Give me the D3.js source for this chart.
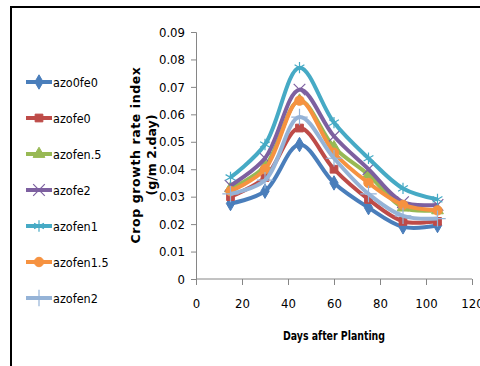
<!DOCTYPE html>
<html>
<head>
<meta charset="utf-8">
<script src="https://cdn.jsdelivr.net/npm/d3@7"></script>
<style>
  body { margin: 0; background: #fff; }
  svg text { font-family: "DejaVu Sans Condensed", "Liberation Sans Narrow", "Arial Narrow", sans-serif; }
</style>
</head>
<body>
<div id="chart"></div>
<script>
const days = [15, 30, 45, 60, 75, 90, 105];
const seriesNames = ["azo0fe0", "azofe0", "azofen.5", "azofe2", "azofen1", "azofen1.5", "azofen2"];
const azo0fe0 = [0.0275, 0.032, 0.049, 0.035, 0.026, 0.019, 0.0195];
const azofe0 = [0.030, 0.037, 0.055, 0.040, 0.029, 0.021, 0.021];
const azofen05 = [0.033, 0.041, 0.065, 0.048, 0.038, 0.026, 0.025];
const azofe2 = [0.034, 0.044, 0.069, 0.052, 0.040, 0.028, 0.027];
const azofen1 = [0.037, 0.049, 0.077, 0.057, 0.044, 0.033, 0.029];
const azofen15 = [0.032, 0.040, 0.065, 0.046, 0.035, 0.027, 0.025];
const azofen2 = [0.031, 0.036, 0.059, 0.044, 0.031, 0.023, 0.022];
const xTicks = [0, 20, 40, 60, 80, 100, 120];
const yTicks = [0, 0.01, 0.02, 0.03, 0.04, 0.05, 0.06, 0.07, 0.08, 0.09];

const colors = ["#4A7EBB", "#BE4B48", "#98B954", "#7D60A0", "#46AAC5", "#F69240", "#95B3D7"];
const symbols = [d3.symbolDiamond, d3.symbolSquare, d3.symbolTriangle, d3.symbolTimes, d3.symbolAsterisk, d3.symbolCircle, d3.symbolPlus];
const strokeSym = [false, false, false, true, true, false, true];
const allValues = [azo0fe0, azofe0, azofen05, azofe2, azofen1, azofen15, azofen2];

const W = 480, H = 366;
const svg = d3.select("#chart").append("svg").attr("width", W).attr("height", H);

// outer frame
svg.append("rect").attr("x", 11).attr("y", 7).attr("width", 480).attr("height", 400)
  .attr("fill", "none").attr("stroke", "#000").attr("stroke-width", 2);

const x = d3.scaleLinear().domain([0, 120]).range([196, 472]);
const y = d3.scaleLinear().domain([0, 0.09]).range([279, 32]);

const axisColor = "#868686";

const gx = svg.append("g").attr("transform", "translate(0,279)")
  .call(d3.axisBottom(x).tickValues(xTicks).tickSize(6).tickPadding(14).tickFormat(d3.format("d")));
const gy = svg.append("g").attr("transform", "translate(196,0)")
  .call(d3.axisLeft(y).tickValues(yTicks).tickSize(5).tickPadding(6).tickFormat(d => d === 0 ? "0" : d3.format(".2f")(d)));
[gx, gy].forEach(g => {
  g.select(".domain").attr("stroke", axisColor);
  g.selectAll(".tick line").attr("stroke", axisColor);
  g.selectAll(".tick text").attr("fill", "#000").style("font-size", "13px")
    .style("font-family", "'DejaVu Sans Condensed', 'Liberation Sans Narrow', sans-serif");
});
gx.select(".domain").attr("d", "M196,0H472");

// titles
svg.append("text").attr("x", 334).attr("y", 340).attr("text-anchor", "middle")
  .attr("textLength", 102).attr("lengthAdjust", "spacingAndGlyphs")
  .style("font-size", "13px").style("font-weight", "bold").text("Days after Planting");
const yt = svg.append("g").attr("transform", "translate(140,155) rotate(-90)");
yt.append("text").attr("text-anchor", "middle").attr("y", 0)
  .style("font-family", "'DejaVu Sans', sans-serif").style("font-size", "12.5px").style("font-weight", "bold")
  .style("letter-spacing", "0.6px")
  .text("Crop growth rate index");
yt.append("text").attr("text-anchor", "middle").attr("y", 16)
  .style("font-family", "'DejaVu Sans', sans-serif").style("font-size", "12.5px").style("font-weight", "bold")
  .text("(g/m 2.day)");

const line = d3.line().x((d, i) => x(days[i])).y(d => y(d)).curve(d3.curveCatmullRom.alpha(0.5));

function drawMarker(sel, i, cx, cy) {
  const size = strokeSym[i] ? 90 : (i === 5 ? 70 : 60);
  sel.append("path")
    .attr("d", d3.symbol().type(symbols[i]).size(size)())
    .attr("transform", "translate(" + cx + "," + cy + ")")
    .attr("fill", strokeSym[i] ? "none" : colors[i])
    .attr("stroke", colors[i])
    .attr("stroke-width", strokeSym[i] ? 1.2 : 1);
}

allValues.forEach((vals, i) => {
  const g = svg.append("g");
  g.append("path").datum(vals).attr("d", line)
    .attr("fill", "none").attr("stroke", colors[i]).attr("stroke-width", 4)
    .attr("stroke-linejoin", "round");
  vals.forEach((v, j) => drawMarker(g, i, x(days[j]), y(v)));
});

// legend
const leg = svg.append("g");
seriesNames.forEach((name, i) => {
  const ly = 82 + i * 36;
  leg.append("line").attr("x1", 26).attr("x2", 52).attr("y1", ly).attr("y2", ly)
    .attr("stroke", colors[i]).attr("stroke-width", 4);
  drawMarker(leg, i, 39, ly);
  leg.append("text").attr("x", 53).attr("y", ly + 5).style("font-size", "12.5px").attr("fill", "#000").text(name);
});
</script>
</body>
</html>
